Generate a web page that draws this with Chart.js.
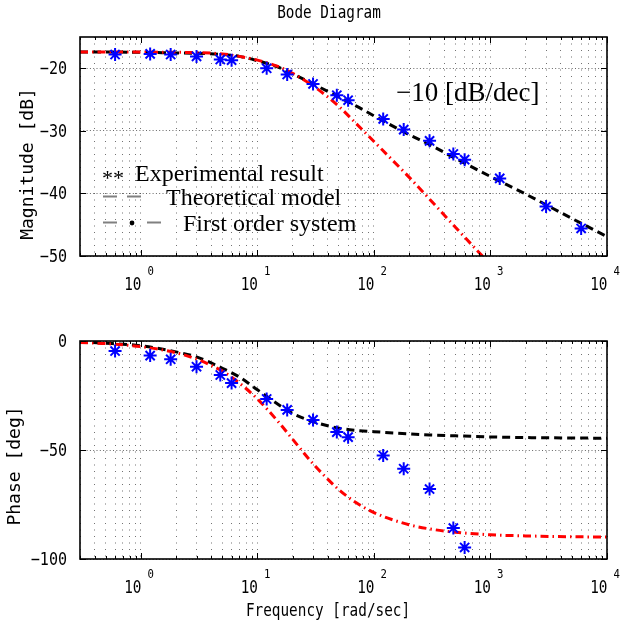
<!DOCTYPE html>
<html>
<head>
<meta charset="utf-8">
<title>Bode Diagram</title>
<script src="https://cdn.jsdelivr.net/npm/chart.js@4.4.0/dist/chart.umd.min.js"></script>
<style>
  html, body { margin: 0; padding: 0; background: #fff; }
  #wrap { position: relative; width: 621px; height: 635px; }
  #wrap canvas { position: absolute; left: 0; top: 0; }
</style>
</head>
<body>
<div id="wrap">
  <canvas id="mag" width="621" height="635"></canvas>
  <canvas id="phase" width="621" height="635"></canvas>
</div>
<script>
// experimental points [rad/sec]
const freqExp  = [0.6, 1.2, 1.8, 3, 4.8, 6, 12, 18, 30, 48, 60, 120, 180, 300, 480, 600, 1200, 3000, 6000];
const magExp   = [-17.8, -17.7, -17.8, -18.1, -18.6, -18.7, -20.0, -21.0, -22.5, -24.3, -25.1, -28.1, -29.8, -31.6, -33.7, -34.6, -37.6, -42.1, -45.6];
const phaseExp = [-4.6, -6.7, -8.4, -11.8, -15.6, -19.3, -26.6, -31.6, -36.2, -41.8, -44.1, -52.5, -58.6, -67.9, -85.8, -94.7];

// curves
const freqModel   = [0.3, 0.5, 1, 2, 3, 5, 7, 10, 15, 20, 30, 50, 70, 100, 200, 300, 500, 1000, 2000, 5000, 10000];
const magTheory   = [-17.4, -17.4, -17.45, -17.55, -17.6, -17.8, -18.1, -18.8, -19.8, -20.9, -22.5, -24.6, -26.0, -27.6, -30.6, -32.2, -34.4, -37.3, -40.1, -44.0, -46.9];
const magFirst    = [-17.4, -17.4, -17.41, -17.44, -17.5, -17.7, -18.1, -18.7, -19.7, -20.8, -22.8, -26.1, -28.8, -31.7, -37.4, -40.9, -45.4, -51.4, -57.4, -65.4, -71.4];
const phaseTheory = [-0.5, -1.0, -2.2, -5.0, -7.3, -12.5, -16.5, -22.4, -29.0, -33.2, -37.0, -40.0, -41.0, -41.6, -42.6, -43.1, -43.5, -44.0, -44.3, -44.5, -44.6];
const phaseFirst  = [-0.7, -1.2, -2.6, -5.4, -8.3, -13.8, -19.3, -26.6, -36.9, -45.0, -56.3, -68.2, -74.1, -78.7, -84.3, -86.2, -87.7, -88.9, -89.4, -89.8, -89.9];

// axes
const freqMin = 0.3, freqMax = 10000;
const decadeExp = [0, 1, 2, 3, 4];
const magTicks = [-50, -40, -30, -20];
const phaseTicks = [-100, -50, 0];

const xGrid = [];
for (let e = -1; e <= 4; e++) {
  for (let m = 1; m <= 9; m++) {
    const v = +(m * Math.pow(10, e)).toPrecision(3);
    if (v >= freqMin && v <= freqMax) xGrid.push(v);
  }
}

const pts = (xs, ys) => ys.map((y, i) => ({ x: xs[i], y: y }));
const MONO = '"DejaVu Sans Mono", monospace';
const SERIF = '"Liberation Serif", "Times New Roman", serif';

function mono(ctx, text, x, y, align, size, sx) {
  ctx.save();
  ctx.translate(x, y);
  ctx.scale(sx || 0.82, 1);
  ctx.font = size + 'px ' + MONO;
  ctx.textAlign = align;
  ctx.textBaseline = 'alphabetic';
  ctx.fillText(text, 0, 0);
  ctx.restore();
}

function framePlugin(cfg) {
  return {
    id: 'frame',
    afterDraw(chart) {
      const ctx = chart.ctx;
      const a = chart.chartArea;
      const xs = chart.scales.x, ys = chart.scales.y;
      ctx.save();
      ctx.setLineDash([]);
      ctx.strokeStyle = '#000';
      ctx.lineWidth = 1;
      ctx.beginPath();
      xGrid.forEach(v => {
        const px = Math.round(xs.getPixelForValue(v)) + 0.5;
        const len = decadeExp.includes(Math.log10(v)) ? 6 : 3;
        ctx.moveTo(px, a.top); ctx.lineTo(px, a.top + len);
        ctx.moveTo(px, a.bottom); ctx.lineTo(px, a.bottom - len);
      });
      cfg.yTicks.forEach(v => {
        const py = Math.round(ys.getPixelForValue(v)) + 0.5;
        ctx.moveTo(a.left, py); ctx.lineTo(a.left + 6, py);
        ctx.moveTo(a.right, py); ctx.lineTo(a.right - 6, py);
      });
      ctx.stroke();
      ctx.lineWidth = 1.6;
      ctx.strokeRect(a.left, a.top, a.right - a.left, a.bottom - a.top);

      ctx.fillStyle = '#000';
      decadeExp.forEach(e => {
        const px = xs.getPixelForValue(Math.pow(10, e));
        mono(ctx, '10', px + 0.5, a.bottom + 33.5, 'right', 17.5);
        mono(ctx, String(e), px + 6.5, a.bottom + 19, 'left', 13);
      });
      cfg.yTicks.forEach(v => {
        const label = v === 0 ? '0' : '\u2212' + Math.abs(v);
        mono(ctx, label, 67, ys.getPixelForValue(v) + 6, 'right', 17.5, 0.86);
      });

      ctx.save();
      ctx.translate(cfg.yTitleX, cfg.yTitleY);
      ctx.rotate(-Math.PI / 2);
      ctx.font = '18px ' + MONO;
      ctx.textAlign = 'center';
      ctx.textBaseline = 'middle';
      ctx.fillText(cfg.yTitle, 0, 0);
      ctx.restore();

      if (cfg.extra) cfg.extra(ctx, a);
      ctx.restore();
    }
  };
}

function baseOptions(yMin, yMax, yTicks, area) {
  return {
    responsive: false,
    animation: false,
    events: [],
    layout: { padding: { left: area.left, right: 621 - area.right, top: area.top, bottom: 635 - area.bottom } },
    plugins: { legend: { display: false }, tooltip: { enabled: false } },
    scales: {
      x: {
        type: 'logarithmic',
        min: freqMin, max: freqMax,
        afterBuildTicks: s => { s.ticks = xGrid.map(v => ({ value: v })); },
        afterFit: s => { s.height = 0; },
        ticks: { display: false, autoSkip: false },
        grid: { color: 'rgba(0,0,0,0.55)', lineWidth: 1, drawTicks: false },
        border: { display: false, dash: [1, 5.5] }
      },
      y: {
        min: yMin, max: yMax,
        afterBuildTicks: s => { s.ticks = yTicks.map(v => ({ value: v })); },
        afterFit: s => { s.width = 0; },
        ticks: { display: false },
        grid: { color: 'rgba(0,0,0,0.6)', lineWidth: 1, drawTicks: false },
        border: { display: false, dash: [1, 2.3] }
      }
    }
  };
}

function datasets(expY, theoryY, firstY) {
  return [
    {
      label: 'Experimental result',
      data: pts(freqExp, expY),
      showLine: false,
      pointStyle: 'star',
      pointRadius: 6.5,
      pointBorderWidth: 2,
      pointBorderColor: '#0000ff',
      borderColor: '#0000ff',
      order: 0
    },
    {
      label: 'First order system',
      data: pts(freqModel, firstY),
      borderColor: '#ff0000',
      borderWidth: 3,
      borderDash: [8, 4, 1.5, 4],
      pointRadius: 0,
      cubicInterpolationMode: 'monotone',
      order: 1
    },
    {
      label: 'Theoretical model',
      data: pts(freqModel, theoryY),
      borderColor: '#000000',
      borderWidth: 3,
      borderDash: [8, 5],
      pointRadius: 0,
      cubicInterpolationMode: 'monotone',
      order: 2
    }
  ];
}

const magArea = { left: 80, right: 607, top: 37, bottom: 256 };
const phaseArea = { left: 80, right: 607, top: 341, bottom: 559 };

new Chart(document.getElementById('mag'), {
  type: 'line',
  data: { datasets: datasets(magExp, magTheory, magFirst) },
  options: baseOptions(-50, -15, magTicks, magArea),
  plugins: [framePlugin({
    yTicks: magTicks,
    yTitle: 'Magnitude [dB]', yTitleX: 28, yTitleY: 164,
    extra: (ctx) => {
      mono(ctx, 'Bode Diagram', 329, 18, 'center', 17.5);

      ctx.fillStyle = '#000';
      ctx.font = '27px ' + SERIF;
      ctx.textAlign = 'left';
      ctx.fillText('\u221210 [dB/dec]', 396, 101);

      // legend
      ctx.font = '24px ' + SERIF;
      ctx.fillText('Experimental result', 135, 181);
      ctx.fillText('Theoretical model', 166, 205);
      ctx.fillText('First order system', 183, 231);
      ctx.font = '22px ' + SERIF;
      ctx.fillText('**', 102, 185);

      ctx.strokeStyle = '#808080';
      ctx.lineWidth = 1.8;
      ctx.beginPath();
      ctx.moveTo(103, 196.5); ctx.lineTo(117, 196.5);
      ctx.moveTo(127, 196.5); ctx.lineTo(141, 196.5);
      ctx.moveTo(103, 222.5); ctx.lineTo(117, 222.5);
      ctx.moveTo(147, 222.5); ctx.lineTo(161, 222.5);
      ctx.stroke();
      ctx.fillStyle = '#000';
      ctx.beginPath();
      ctx.arc(132, 223, 2.4, 0, Math.PI * 2);
      ctx.fill();
    }
  })]
});

new Chart(document.getElementById('phase'), {
  type: 'line',
  data: { datasets: datasets(phaseExp, phaseTheory, phaseFirst) },
  options: baseOptions(-100, 0, phaseTicks, phaseArea),
  plugins: [framePlugin({
    yTicks: phaseTicks,
    yTitle: 'Phase [deg]', yTitleX: 15, yTitleY: 466,
    extra: (ctx) => {
      mono(ctx, 'Frequency [rad/sec]', 328, 616, 'center', 17.5);
    }
  })]
});
</script>
</body>
</html>
